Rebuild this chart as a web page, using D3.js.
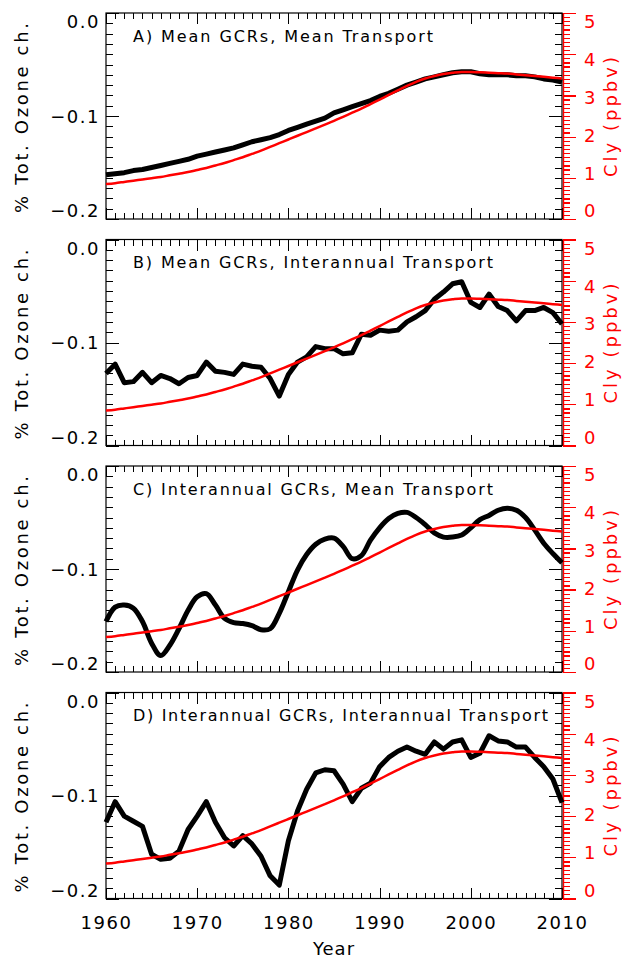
<!DOCTYPE html>
<html>
<head>
<meta charset="utf-8">
<script src="https://cdn.jsdelivr.net/npm/d3@7"></script>
<style>
  body { margin: 0; background: #fff; }
  text { font-family: "DejaVu Sans", sans-serif; }
</style>
</head>
<body>
<script>
// years 1960..2010
var years = d3.range(1960, 2011);

// Cly (ppbv), same curve in every panel
var cly = [0.85,0.87,0.90,0.93,0.96,0.99,1.02,1.06,1.10,1.14,
           1.19,1.24,1.30,1.36,1.43,1.50,1.58,1.66,1.75,1.84,
           1.93,2.02,2.11,2.20,2.29,2.38,2.48,2.58,2.68,2.79,
           2.90,3.01,3.12,3.23,3.33,3.41,3.47,3.52,3.55,3.57,
           3.57,3.56,3.55,3.54,3.53,3.51,3.49,3.47,3.45,3.43,3.41];

// % total ozone change
var ozoneA = [-0.157,-0.156,-0.155,-0.153,-0.152,-0.150,-0.148,-0.146,-0.144,-0.142,
              -0.139,-0.137,-0.135,-0.133,-0.131,-0.128,-0.125,-0.123,-0.121,-0.118,
              -0.114,-0.111,-0.108,-0.105,-0.102,-0.097,-0.094,-0.091,-0.088,-0.085,
              -0.081,-0.078,-0.074,-0.070,-0.067,-0.064,-0.062,-0.060,-0.058,-0.057,
              -0.057,-0.059,-0.060,-0.060,-0.060,-0.061,-0.061,-0.062,-0.064,-0.065,-0.067];

var ozoneB = [-0.130,-0.121,-0.139,-0.138,-0.129,-0.139,-0.132,-0.135,-0.140,-0.134,
              -0.132,-0.119,-0.128,-0.129,-0.131,-0.121,-0.123,-0.124,-0.135,-0.152,
              -0.131,-0.119,-0.114,-0.104,-0.106,-0.106,-0.111,-0.110,-0.092,-0.093,
              -0.088,-0.089,-0.088,-0.080,-0.075,-0.069,-0.058,-0.051,-0.043,-0.041,
              -0.061,-0.066,-0.053,-0.065,-0.069,-0.079,-0.069,-0.069,-0.066,-0.071,-0.082];

var ozoneC = [-0.151,-0.137,-0.135,-0.138,-0.151,-0.172,-0.184,-0.174,-0.158,-0.140,
              -0.127,-0.124,-0.135,-0.148,-0.152,-0.153,-0.155,-0.159,-0.158,-0.143,
              -0.122,-0.101,-0.086,-0.076,-0.071,-0.070,-0.078,-0.090,-0.087,-0.072,
              -0.060,-0.051,-0.046,-0.045,-0.050,-0.057,-0.065,-0.069,-0.069,-0.067,
              -0.060,-0.052,-0.048,-0.043,-0.041,-0.043,-0.050,-0.062,-0.075,-0.085,-0.094];

var ozoneD = [-0.126,-0.106,-0.120,-0.125,-0.130,-0.157,-0.162,-0.161,-0.154,-0.133,
              -0.120,-0.106,-0.126,-0.141,-0.149,-0.139,-0.147,-0.159,-0.178,-0.187,
              -0.144,-0.115,-0.094,-0.078,-0.075,-0.076,-0.089,-0.106,-0.093,-0.088,
              -0.072,-0.063,-0.057,-0.053,-0.057,-0.060,-0.048,-0.055,-0.048,-0.046,
              -0.063,-0.059,-0.042,-0.047,-0.048,-0.053,-0.053,-0.063,-0.072,-0.084,-0.107];

var titles = ["A) Mean GCRs, Mean Transport",
              "B) Mean GCRs, Interannual Transport",
              "C) Interannual GCRs, Mean Transport",
              "D) Interannual GCRs, Interannual Transport"];
var titleWidths = [300, 360, 360, 415];

var yearTicks = [1960, 1970, 1980, 1990, 2000, 2010];
var ozoneTicks = [-0.2, -0.1, 0.0];
var clyTicks = [0, 1, 2, 3, 4, 5];

var series = [ozoneA, ozoneB, ozoneC, ozoneD];

var width = 630, height = 963;
var left = 106, right = 562;
var panelTop = [13, 239.5, 466, 692.5], panelH = 206;

var svg = d3.select("body").append("svg")
    .attr("width", width)
    .attr("height", height);

var x = d3.scaleLinear().domain([1960, 2010]).range([left, right]);

var minorYears = years;
var minorOzone = d3.range(0, 21).map(function(k) { return -0.2 + k * 0.01; });
var minorCly = d3.range(0, 51).map(function(k) { return k / 10; });

function fmtOz(d) {
  return d === 0 ? "0.0" : "\u2212" + Math.abs(d).toFixed(1);
}

// IDL squeezes the edge labels a little towards the middle
function squeeze(sel, scale, top) {
  var mid = top + panelH / 2;
  sel.selectAll(".tick text")
    .attr("y", function(d) { return (mid - scale(d)) * 0.082; })
    .attr("dy", "0.35em");
}

series.forEach(function(vals, i) {
  var top = panelTop[i], bottom = top + panelH;
  var y = d3.scaleLinear().domain([-0.2, 0]).range([bottom, top]);
  var yc = d3.scaleLinear().domain([0, 5]).range([bottom, top]);
  var g = svg.append("g");

  // frame
  g.append("rect")
    .attr("x", left).attr("y", top)
    .attr("width", right - left).attr("height", panelH)
    .attr("fill", "none").attr("stroke", "#000").attr("stroke-width", 1.2);

  // x ticks, bottom and top, pointing inward
  var xb = g.append("g").attr("transform", "translate(0," + bottom + ")");
  xb.append("g").call(d3.axisBottom(x).tickValues(minorYears).tickSize(-6).tickFormat(""));
  var xbMaj = xb.append("g").call(d3.axisBottom(x).tickValues(yearTicks).tickSize(-11)
      .tickPadding(18).tickFormat(i === 3 ? d3.format("d") : ""));
  var xt = g.append("g").attr("transform", "translate(0," + top + ")");
  xt.append("g").call(d3.axisTop(x).tickValues(minorYears).tickSize(-6).tickFormat(""));
  xt.append("g").call(d3.axisTop(x).tickValues(yearTicks).tickSize(-11).tickFormat(""));

  // left ozone axis + mirrored ticks on the right
  var yl = g.append("g").attr("transform", "translate(" + left + ",0)");
  yl.append("g").call(d3.axisLeft(y).tickValues(minorOzone).tickSize(-7).tickFormat(""));
  var ylMaj = yl.append("g").call(d3.axisLeft(y).tickValues(ozoneTicks).tickSize(-13)
      .tickPadding(6).tickFormat(fmtOz));
  squeeze(ylMaj, y, top);
  var yr = g.append("g").attr("transform", "translate(" + right + ",0)");
  yr.append("g").call(d3.axisRight(y).tickValues(minorOzone).tickSize(-7).tickFormat(""));
  yr.append("g").call(d3.axisRight(y).tickValues(ozoneTicks).tickSize(-13).tickFormat(""));

  // red Cly axis
  var yc1 = g.append("g").attr("transform", "translate(" + (right + 1) + ",0)");
  yc1.append("g").call(d3.axisRight(yc).tickValues(minorCly).tickSize(7).tickFormat(""));
  var ycMaj = yc1.append("g").call(d3.axisRight(yc).tickValues(clyTicks).tickSize(13)
      .tickPadding(8).tickFormat(d3.format("d")));
  squeeze(ycMaj, yc, top);
  yc1.selectAll("line, path").attr("stroke", "#ff0000").attr("stroke-width", 1.2);
  yc1.selectAll("text").attr("fill", "#ff0000");

  g.selectAll(".domain").filter(function() { return !yc1.node().contains(this); }).remove();
  g.selectAll(".tick line").attr("shape-rendering", "crispEdges");
  g.selectAll(".tick text").attr("font-size", 18).attr("letter-spacing", 1.5)
    .attr("font-family", "DejaVu Sans, sans-serif");

  // black ozone line
  var line = d3.line()
    .x(function(d, k) { return x(years[k]); })
    .y(function(d) { return y(d); })
    .curve(i === 2 ? d3.curveCatmullRom : d3.curveLinear);
  g.append("path").datum(vals)
    .attr("fill", "none").attr("stroke", "#000")
    .attr("stroke-width", 5).attr("stroke-linejoin", "round")
    .attr("d", line);

  // red Cly line
  var cline = d3.line()
    .x(function(d, k) { return x(years[k]); })
    .y(function(d) { return yc(d); })
    .curve(d3.curveMonotoneX);
  g.append("path").datum(cly)
    .attr("fill", "none").attr("stroke", "#ff0000")
    .attr("stroke-width", 2.5)
    .attr("d", cline);

  // panel title
  g.append("text")
    .attr("x", 133).attr("y", top + 28.5)
    .attr("font-size", 16)
    .attr("textLength", titleWidths[i]).attr("lengthAdjust", "spacing")
    .text(titles[i]);

  // axis titles
  g.append("text")
    .attr("transform", "translate(28," + (top + panelH / 2 + 2) + ") rotate(-90)")
    .attr("text-anchor", "middle").attr("font-size", 18)
    .attr("textLength", 190).attr("lengthAdjust", "spacing")
    .text("% Tot. Ozone ch.");
  g.append("text")
    .attr("transform", "translate(617," + (top + panelH / 2 + 1) + ") rotate(-90)")
    .attr("text-anchor", "middle").attr("font-size", 18).attr("fill", "#ff0000")
    .attr("textLength", 120).attr("lengthAdjust", "spacing")
    .text("Cly (ppbv)");
});

svg.append("text")
  .attr("x", (left + right) / 2).attr("y", 955)
  .attr("text-anchor", "middle").attr("font-size", 18)
  .attr("letter-spacing", 1)
  .text("Year");
</script>
</body>
</html>
